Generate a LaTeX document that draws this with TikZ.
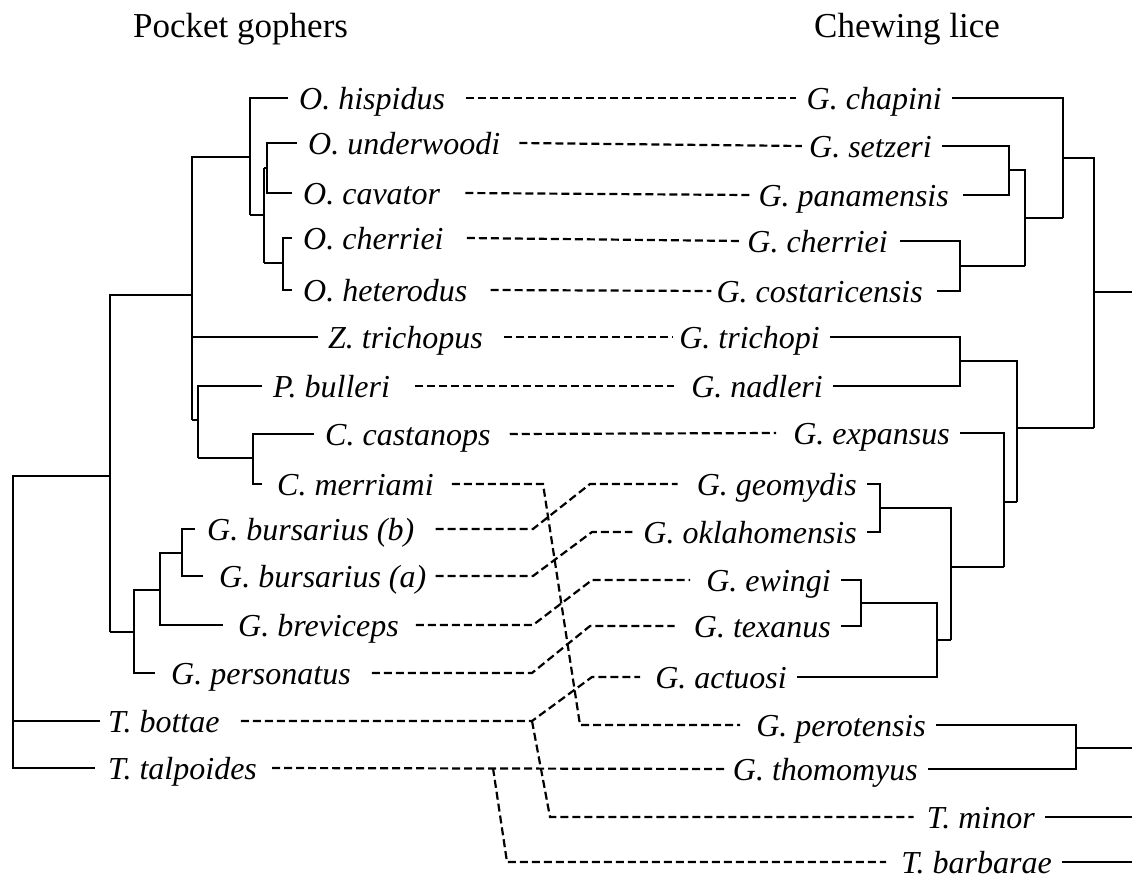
\documentclass[tikz,border=0pt]{standalone}
\usepackage{fontspec}
\setmainfont{Liberation Serif}
\begin{document}
\begin{tikzpicture}[x=1pt,y=-1pt,line width=2.4pt,
  lab/.style={font=\fontsize{32}{36}\selectfont\itshape, inner sep=0pt, text height=23pt, text depth=0pt},
  ll/.style={lab, anchor=west},
  rl/.style={lab, anchor=east},
  ttl/.style={font=\fontsize{35}{40}\selectfont, inner sep=0pt, anchor=base west},
  link/.style={line width=2.2pt, dash pattern=on 8pt off 4pt}]
\path[use as bounding box] (0,0) rectangle (1132,879);
% titles
\node[ttl] (t1) at (132,37) {Pocket gophers};
\node[ttl] (t2) at (813,37) {Chewing lice};
% left labels
\node[ll] (L1) at (298,98) {O. hispidus};
\node[ll] (L2) at (307,143) {O. underwoodi};
\node[ll] (L3) at (302,193) {O. cavator};
\node[ll] (L4) at (302,238) {O. cherriei};
\node[ll] (L5) at (302,290) {O. heterodus};
\node[ll] (L6) at (327,337) {Z. trichopus};
\node[ll] (L7) at (272,386) {P. bulleri};
\node[ll] (L8) at (324,434) {C. castanops};
\node[ll] (L9) at (276,484) {C. merriami};
\node[ll] (L10) at (206,529) {G. bursarius (b)};
\node[ll] (L11) at (218,576) {G. bursarius (a)};
\node[ll] (L12) at (237,625) {G. breviceps};
\node[ll] (L13) at (170,673) {G. personatus};
\node[ll] (L14) at (107,721) {T. bottae};
\node[ll] (L15) at (107,768) {T. talpoides};
% right labels
\node[rl] (R1) at (943,98) {G. chapini};
\node[rl] (R2) at (933,146) {G. setzeri};
\node[rl] (R3) at (950,195) {G. panamensis};
\node[rl] (R4) at (889,241) {G. cherriei};
\node[rl] (R5) at (924,291) {G. costaricensis};
\node[rl] (R6) at (821,337) {G. trichopi};
\node[rl] (R7) at (824,386) {G. nadleri};
\node[rl] (R8) at (951,433) {G. expansus};
\node[rl] (R9) at (858,484) {G. geomydis};
\node[rl] (R10) at (858,532) {G. oklahomensis};
\node[rl] (R11) at (832,580) {G. ewingi};
\node[rl] (R12) at (832,626) {G. texanus};
\node[rl] (R13) at (788,677) {G. actuosi};
\node[rl] (R14) at (927,725) {G. perotensis};
\node[rl] (R15) at (919,769) {G. thomomyus};
\node[rl] (R16) at (1036,817) {T. minor};
\node[rl] (R17) at (1053,862) {T. barbarae};
% left tree
\draw ([xshift=-10pt]L4.west) -- (283,238) -- (283,290) -- ([xshift=-10pt]L5.west);
\draw (283,263) -- (264,263);
\draw ([xshift=-10pt]L2.west) -- (267,143) -- (267,193) -- ([xshift=-10pt]L3.west);
\draw (267,168) -- (264,168);
\draw (264,168) -- (264,263);
\draw (264,215) -- (250,215);
\draw ([xshift=-10pt]L1.west) -- (250,98) -- (250,215);
\draw (250,157) -- (192,157) -- (192,420);
\draw (192,337) -- ([xshift=-9pt]L6.west);
\draw ([xshift=-10pt]L8.west) -- (253,434) -- (253,484) -- ([xshift=-14pt]L9.west);
\draw (253,458) -- (198,458);
\draw ([xshift=-10pt]L7.west) -- (198,386) -- (198,458);
\draw (198,420) -- (192,420);
\draw (192,295) -- (110,295) -- (110,632);
\draw ([xshift=-11pt]L10.west) -- (182,529) -- (182,576) -- ([xshift=-15pt]L11.west);
\draw (182,553) -- (160,553) -- (160,625) -- ([xshift=-14pt]L12.west);
\draw (160,590) -- (134,590) -- (134,673) -- ([xshift=-15pt]L13.west);
\draw (134,632) -- (110,632);
\draw (110,476) -- (13,476) -- (13,768) -- ([xshift=-12pt]L15.west);
\draw (13,721) -- ([xshift=-7pt]L14.west);
% right tree
\draw ([xshift=9pt]R2.east) -- (1009,146) -- (1009,195) -- ([xshift=13pt]R3.east);
\draw (1009,170) -- (1025,170) -- (1025,266);
\draw ([xshift=11pt]R4.east) -- (960,241) -- (960,291) -- ([xshift=13pt]R5.east);
\draw (960,266) -- (1025,266);
\draw (1025,218) -- (1063,218);
\draw ([xshift=9pt]R1.east) -- (1063,98) -- (1063,218);
\draw (1063,158) -- (1094,158) -- (1094,428);
\draw (1094,292) -- (1132,292);
\draw ([xshift=9pt]R6.east) -- (960,337) -- (960,386) -- ([xshift=9pt]R7.east);
\draw (960,361) -- (1017,361) -- (1017,502);
\draw (1017,428) -- (1094,428);
\draw ([xshift=9pt]R8.east) -- (1004,433) -- (1004,567);
\draw (1004,502) -- (1017,502);
\draw ([xshift=9pt]R9.east) -- (880,484) -- (880,532) -- ([xshift=9pt]R10.east);
\draw (880,508) -- (951,508) -- (951,640);
\draw (951,567) -- (1004,567);
\draw ([xshift=9pt]R11.east) -- (861,580) -- (861,626) -- ([xshift=9pt]R12.east);
\draw (861,603) -- (937,603) -- (937,677) -- ([xshift=9pt]R13.east);
\draw (937,640) -- (951,640);
\draw ([xshift=9pt]R14.east) -- (1076,725) -- (1076,769) -- ([xshift=9pt]R15.east);
\draw (1076,748) -- (1132,748);
\draw ([xshift=9pt]R16.east) -- (1132,817);
\draw ([xshift=9pt]R17.east) -- (1132,862);
% associations
\draw[link] ([xshift=20pt]L1.east) -- ([xshift=-10pt]R1.west);
\draw[link] ([xshift=18pt]L2.east) -- ([xshift=-6pt]R2.west);
\draw[link] ([xshift=24pt]L3.east) -- ([xshift=-8pt]R3.west);
\draw[link] ([xshift=22pt]L4.east) -- ([xshift=-4pt]R4.west);
\draw[link] ([xshift=22pt]L5.east) -- ([xshift=-4pt]R5.west);
\draw[link] ([xshift=20pt]L6.east) -- ([xshift=-5pt]R6.west);
\draw[link] ([xshift=24pt]L7.east) -- ([xshift=-16pt]R7.west);
\draw[link] ([xshift=18pt]L8.east) -- ([xshift=-16pt]R8.west);
\draw[link] ([xshift=17pt]L9.east) -- (543,484) -- (580,725) -- ([xshift=-15pt]R14.west);
\draw[link] ([xshift=20pt]L10.east) -- (533,529) -- (590,484) -- ([xshift=-18pt]R9.west);
\draw[link] ([xshift=8pt]L11.east) -- (533,576) -- (592,532) -- ([xshift=-10pt]R10.west);
\draw[link] ([xshift=16pt]L12.east) -- (533,625) -- (592,580) -- ([xshift=-15pt]R11.west);
\draw[link] ([xshift=20pt]L13.east) -- (532,673) -- (590,626) -- ([xshift=-18pt]R12.west);
\coordinate (bt) at (532,721);
\coordinate (tp) at (493,768);
\draw[link] ([xshift=20pt]L14.east) -- (bt) -- (592,677) -- ([xshift=-14pt]R13.west);
\draw[link] (bt) -- (550,817) -- ([xshift=-12pt]R16.west);
\draw[link] ([xshift=14pt]L15.east) -- ([xshift=-4pt]R15.west);
\draw[link] (tp) -- (507,862) -- ([xshift=-14pt]R17.west);
\end{tikzpicture}
\end{document}
